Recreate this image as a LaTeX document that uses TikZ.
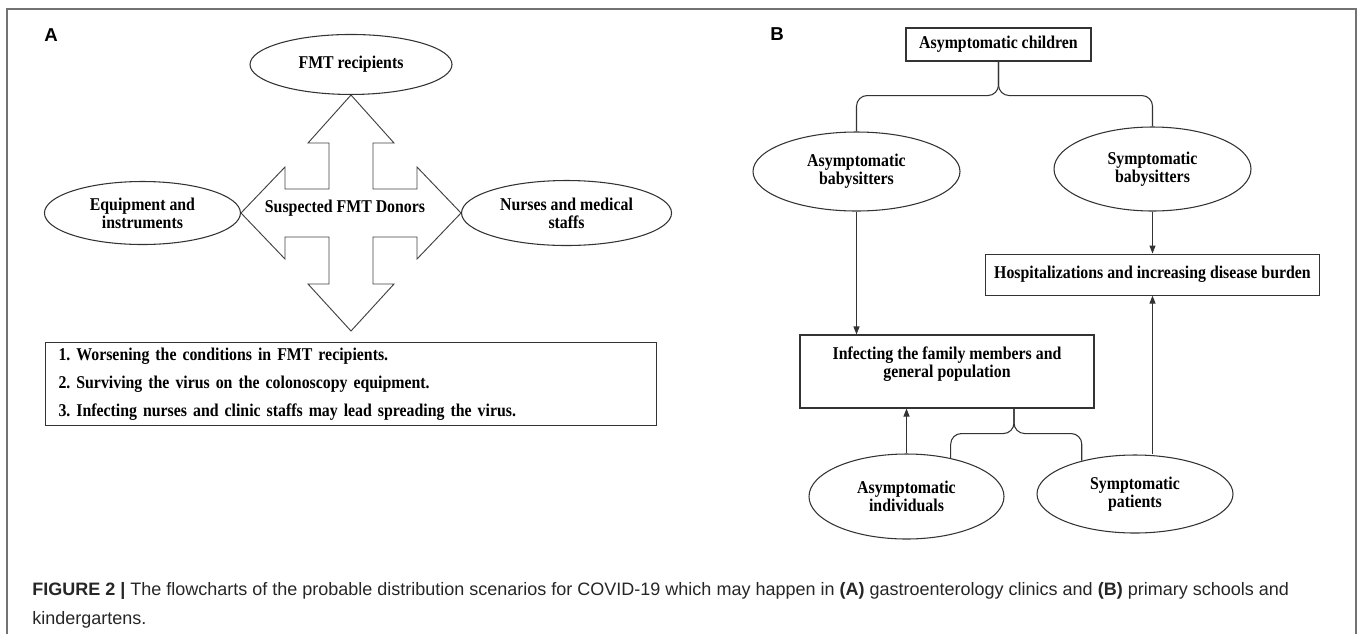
\documentclass[tikz,border=0pt]{standalone}
\usepackage{fontspec}
\setmainfont{Liberation Serif}
\setsansfont{Liberation Sans}
\newfontfamily\diafont{Liberation Serif}[FakeStretch=0.88]
\usepackage{tikz}
\usetikzlibrary{shapes.geometric, arrows.meta, positioning, calc}
\frenchspacing
\tikzset{
  oval/.style={ellipse, draw=black!80, line width=0.8pt, inner sep=0pt,
               align=center, font=\diafont\bfseries\fontsize{13.5}{13.5}\selectfont},
  rbox/.style={rectangle, draw=black!80, line width=0.8pt, inner sep=0pt,
               align=center, font=\diafont\bfseries\fontsize{13.5}{13.5}\selectfont},
  arr/.style={-{Triangle[length=6pt,width=4.5pt]}, line width=0.8pt, draw=black!80},
  brace/.style={line width=0.8pt, draw=black!80, rounded corners=8pt},
  cross/.style={draw=black!75, line width=0.7pt, line join=miter},
  panel/.style={font=\sffamily\bfseries\fontsize{14}{16}\selectfont},
}

\begin{document}
\begin{tikzpicture}[x=0.75pt, y=-0.75pt]
  \useasboundingbox (0,0) rectangle (1363,633);
  % outer frame
  \draw[black!55, line width=0.8pt] (7,9) rectangle (1356,660);

  % ---- panel A
  \node[panel] (labA) at (51,35) {A};
  \coordinate (hub) at (351,213);
  \begin{scope}[shift={(hub)}]
    \draw[cross] (0,-118) -- (43,-70) -- (22,-70) -- (22,-24) -- (66,-24)
      -- (66,-46) -- (110,0) -- (66,46) -- (66,24) -- (22,24) -- (22,71)
      -- (43,71) -- (0,118) -- (-43,71) -- (-22,71) -- (-22,24) -- (-66,24)
      -- (-66,46) -- (-110,0) -- (-66,-46) -- (-66,-24) -- (-22,-24)
      -- (-22,-70) -- (-43,-70) -- cycle;
    \coordinate (tipN) at (0,-118);
    \coordinate (tipS) at (0,118);
    \coordinate (tipW) at (-110,0);
    \coordinate (tipE) at (110,0);
  \end{scope}
  \node[font=\diafont\bfseries\fontsize{13.5}{13.5}\selectfont] (donors)
    at ($(hub)+(-6,-5)$) {Suspected FMT Donors};
  \node[oval, minimum width=151.5pt, minimum height=45pt, anchor=south]
    (recip) at (tipN) {FMT recipients};
  \node[oval, minimum width=147pt, minimum height=47.25pt, anchor=east]
    (equip) at (tipW) {Equipment and\\instruments};
  \node[oval, minimum width=157.5pt, minimum height=48.75pt, anchor=west]
    (nurses) at (tipE) {Nurses and medical\\staffs};
  \node[rbox, below=8.25pt of tipS, minimum width=458.25pt, minimum height=62.25pt,
        align=left, text width=438.75pt]
    (effects) {1. Worsening the conditions in FMT recipients.\\[7.5pt]
               2. Surviving the virus on the colonoscopy equipment.\\[7.5pt]
               3. Infecting nurses and clinic staffs may lead spreading the virus.};

  % ---- panel B
  \node[panel] (labB) at (777,34) {B};
  \node[rbox, minimum width=138.75pt, minimum height=24.75pt]
    (kids) at (998.5,44.5) {Asymptomatic children};
  \node[oval, minimum width=155.25pt, minimum height=59.25pt]
    (sitA) at (856.5,171.5) {Asymptomatic\\babysitters};
  \node[oval, minimum width=147.75pt, minimum height=63pt]
    (sitS) at (1152.5,169) {Symptomatic\\babysitters};
  \node[rbox, below=31.5pt of sitS, minimum width=250.5pt, minimum height=30.75pt]
    (hosp) {Hospitalizations and increasing disease burden};
  \node[rbox, minimum width=220.5pt, minimum height=54.75pt]
    (infect) at (947,371.5) {Infecting the family members and\\general population\\[0pt]\mbox{}};
  \node[oval, minimum width=146.25pt, minimum height=63.75pt]
    (indA) at (906.5,496.5) {Asymptomatic\\individuals};
  \node[oval, minimum width=147pt, minimum height=58.5pt]
    (patS) at (1135,494) {Symptomatic\\patients};

  \draw[brace] (kids.south) -- ++(0,34) -| (sitA.north);
  \draw[brace] (kids.south) -- ++(0,34) -| (sitS.north);
  \draw[arr] (sitS.south) -- (sitS.south |- hosp.north);
  \draw[arr] (sitA.south) -- (sitA.south |- infect.north);
  \draw[arr] (indA.north) -- (indA.north |- infect.south);
  \coordinate (fork) at ($(infect.south)+(67,0)$);
  \draw[brace] (fork) -- ++(0,25) -| (indA.41.5);
  \draw[brace] (fork) -- ++(0,25) -| (patS.148);
  \coordinate (pup) at ($(patS.north)+(17.5,0)$);
  \draw[arr] (pup) -- (pup |- hosp.south);

  % ---- caption
  \node[anchor=north west, inner sep=0pt, align=left, text=black!85,
        font=\sffamily\fontsize{13.5}{21.75}\selectfont] (cap) at (32,582)
    {\textbf{FIGURE 2 |} The flowcharts of the probable distribution scenarios for COVID-19 which may happen in \textbf{(A)} gastroenterology clinics and \textbf{(B)} primary schools and\\
     kindergartens.};
\end{tikzpicture}
\end{document}
